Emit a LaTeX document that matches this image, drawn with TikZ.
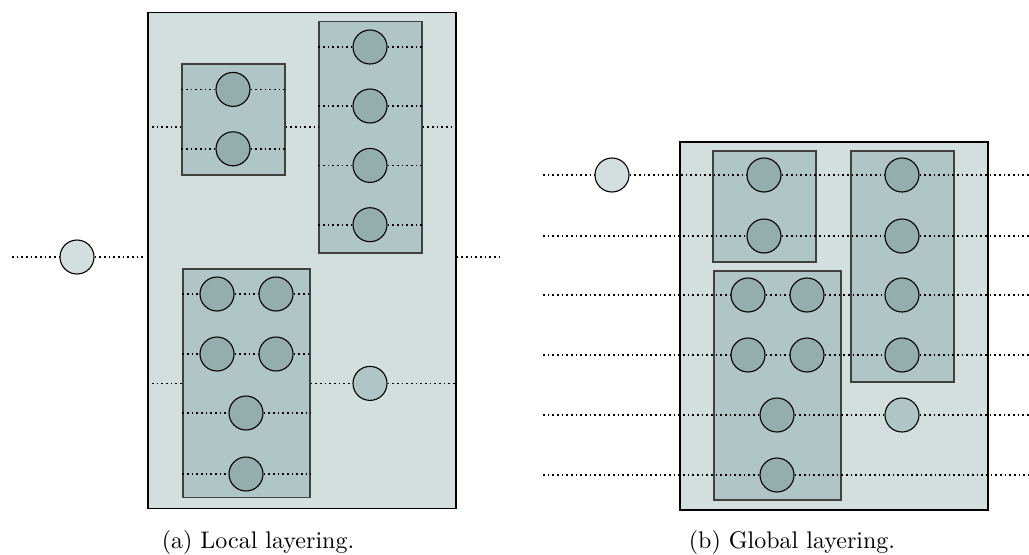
\documentclass[tikz,border=0pt]{standalone}
\usetikzlibrary{fit}
\definecolor{cOut}{RGB}{211,223,223}
\definecolor{cIn}{RGB}{176,198,198}
\definecolor{cDk}{RGB}{148,173,173}
\pgfdeclarelayer{bg}
\pgfdeclarelayer{lines}
\pgfsetlayers{bg,lines,main}
\tikzset{
  outerbox/.style={draw=black, fill=cOut, line width=0.5pt, inner sep=0pt},
  innerbox/.style={draw=black!75, fill=cIn, line width=0.5pt, inner sep=0pt},
  dk/.style={circle, draw=black, fill=cDk, minimum size=15.3pt, inner sep=0pt, line width=0.5pt},
  lt/.style={dk, fill=cOut},
  md/.style={dk, fill=cIn},
  dotl/.style={line width=0.75pt, dash pattern=on 0.75pt off 1.35pt},
  captext/.style={font=\fontsize{10.8}{13}\selectfont, inner sep=0pt}
}
\begin{document}
\begin{tikzpicture}[x=0.45pt, y=-0.45pt]
\useasboundingbox (0,0) rectangle (1029,554);
% ---------- panel (a) ----------
\begin{pgfonlayer}{bg}
\node[outerbox, fit={(148,12.4)(456,508.8)}] (PA) {};
\node[innerbox, fit={(182,64)(285,175)}] (A1) {};
\node[innerbox, fit={(319,21.6)(422,253)}] (A2) {};
\node[innerbox, fit={(183,269)(310,497.5)}] (A3) {};
\end{pgfonlayer}
\node[lt] (a0) at (77,257) {};
\node[dk] (a11) at (233,89.4) {};
\node[dk] (a12) at (233,148.8) {};
\node[dk] (a21) at (370,47) {};
\node[dk] (a22) at (370,106) {};
\node[dk] (a23) at (370,165.4) {};
\node[dk] (a24) at (370,224.7) {};
\node[dk] (a31) at (217,294) {};
\node[dk] (a32) at (276,294) {};
\node[dk] (a33) at (217,354) {};
\node[dk] (a34) at (276,354) {};
\node[dk] (a35) at (246,413) {};
\node[dk] (a36) at (246,474) {};
\node[md] (a4) at (370,383.4) {};
\coordinate (aL) at (12,257);
\coordinate (aM) at (143,257);
\coordinate (aR) at (503,257);
\coordinate (r1) at (0,127.2);
\begin{pgfonlayer}{lines}
\draw[dotl] (aL) -- (a0) -- (aM);
\draw[dotl] (PA.east |- a0) -- (aR);
\draw[dotl] (PA.west |- r1) -- (A1.west |- r1);
\draw[dotl] (A1.east |- r1) -- (A2.west |- r1);
\draw[dotl] (A2.east |- r1) -- (PA.east |- r1);
\draw[dotl] (A1.west |- a11) -- (a11) -- (A1.east |- a11);
\draw[dotl] (A1.west |- a12) -- (a12) -- (A1.east |- a12);
\draw[dotl] (A2.west |- a21) -- (a21) -- (A2.east |- a21);
\draw[dotl] (A2.west |- a22) -- (a22) -- (A2.east |- a22);
\draw[dotl] (A2.west |- a23) -- (a23) -- (A2.east |- a23);
\draw[dotl] (A2.west |- a24) -- (a24) -- (A2.east |- a24);
\draw[dotl] (A3.west |- a31) -- (a31) -- (a32) -- (A3.east |- a32);
\draw[dotl] (A3.west |- a33) -- (a33) -- (a34) -- (A3.east |- a34);
\draw[dotl] (A3.west |- a35) -- (a35) -- (A3.east |- a35);
\draw[dotl] (A3.west |- a36) -- (a36) -- (A3.east |- a36);
\draw[dotl] (PA.west |- a4) -- (A3.west |- a4);
\draw[dotl] (A3.east |- a4) -- (a4) -- (PA.east |- a4);
\end{pgfonlayer}
\node[captext] (capA) at (258,542) {(a) Local layering.};
% ---------- panel (b) ----------
\begin{pgfonlayer}{bg}
\node[outerbox, fit={(680,142)(988,510)}] (PB) {};
\node[innerbox, fit={(713,151)(816,262)}] (B1) {};
\node[innerbox, fit={(851,151)(954,382)}] (B2) {};
\node[innerbox, fit={(714,271)(841,500)}] (B3) {};
\end{pgfonlayer}
\node[lt] (b0) at (612,175) {};
\node[dk] (b11) at (764,175) {};
\node[dk] (b12) at (764,236) {};
\node[dk] (b21) at (902,175) {};
\node[dk] (b22) at (902,236) {};
\node[dk] (b23) at (902,295) {};
\node[dk] (b24) at (902,355) {};
\node[md] (b4) at (902,415) {};
\node[dk] (b31) at (748,295) {};
\node[dk] (b32) at (807,295) {};
\node[dk] (b33) at (748,355) {};
\node[dk] (b34) at (807,355) {};
\node[dk] (b35) at (777,415) {};
\node[dk] (b36) at (777,475) {};
\foreach \i/\y in {1/175,2/236,3/295,4/355,5/415,6/475}{
  \coordinate (bL\i) at (543,\y);
  \coordinate (bR\i) at (1029,\y);
}
\begin{pgfonlayer}{lines}
\draw[dotl] (bL1) -- (b0) -- (b11) -- (b21) -- (bR1);
\draw[dotl] (bL2) -- (b12) -- (b22) -- (bR2);
\draw[dotl] (bL3) -- (b31) -- (b32) -- (b23) -- (bR3);
\draw[dotl] (bL4) -- (b33) -- (b34) -- (b24) -- (bR4);
\draw[dotl] (bL5) -- (b35) -- (b4) -- (bR5);
\draw[dotl] (bL6) -- (b36) -- (bR6);
\end{pgfonlayer}
\node[captext] (capB) at (792,542) {(b) Global layering.};
\end{tikzpicture}
\end{document}
